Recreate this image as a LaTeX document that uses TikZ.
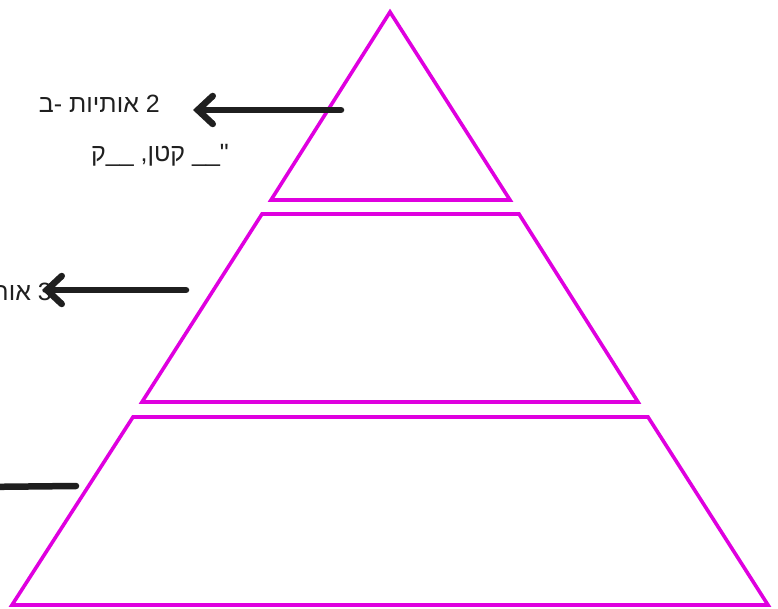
\documentclass[tikz,border=0pt]{standalone}
\usepackage{fontspec}
\newfontfamily\hebfont[Script=Hebrew]{Liberation Sans}
\TeXXeTstate=1
\usetikzlibrary{arrows.meta}

\begin{document}
\begin{tikzpicture}[x=1pt, y=-1pt, >={Straight Barb[length=15pt, width=28pt, line cap=round]},
  layer/.style={draw=violet!25!magenta, line width=3.6pt, line join=miter},
  note/.style={font=\hebfont\fontsize{25}{30}\selectfont, text=black!88, inner sep=0pt},
  pointer/.style={draw=black!88, line width=6.5pt, line cap=round}]
\useasboundingbox (0,0) rectangle (778,609);
\clip (0,0) rectangle (778,609);
\fill[white] (0,0) rectangle (778,609);
% pyramid
\draw[layer] (390,12) -- (510,200) -- (271,200) -- cycle;
\draw[layer] (262,214) -- (519,214) -- (638,402) -- (142,402) -- cycle;
\draw[layer] (133,417) -- (648,417) -- (768,605) -- (12,605) -- cycle;
% notes
\node[note, anchor=east] (top1) at (160,104) {\beginR 2 אותיות -ב\endR};
\node[note, anchor=east] (top2) at (229,155) {\beginR "\_\_ קטן, \_\_ק\endR};
\node[note, anchor=east] (mid) at (52,292) {\beginR 3 אותיות\endR};
\coordinate (s1) at (341,110);
\coordinate (s2) at (186,290);
\coordinate (s3) at (76,486);
\coordinate (e3) at (-20,487);
\draw[pointer, ->] (s1) -- ([xshift=33pt]top1.east |- s1);
\draw[pointer, ->] (s2) -- ([xshift=-10pt]mid.east |- s2);
\draw[pointer] (s3) -- (e3);
\end{tikzpicture}
\end{document}
